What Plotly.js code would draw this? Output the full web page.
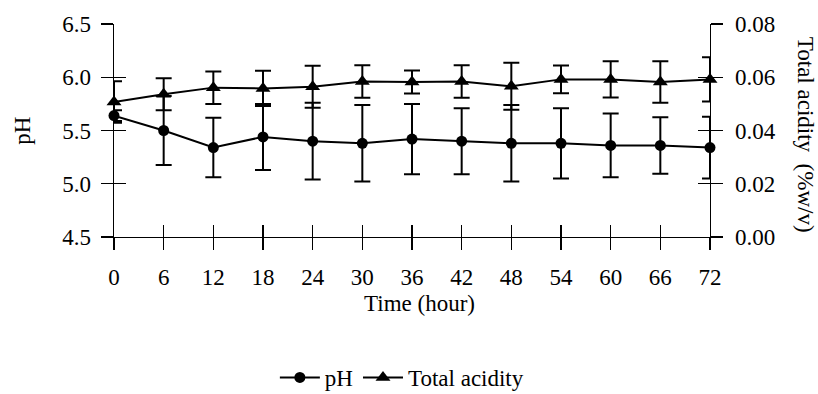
<!DOCTYPE html>
<html>
<head>
<meta charset="utf-8">
<script src="https://cdn.plot.ly/plotly-3.0.1.min.js"></script>
<style>
  html, body { margin: 0; padding: 0; background: #ffffff; }
  #chart { width: 818px; height: 394px; }
</style>
</head>
<body>
<div id="chart"></div>
<script>
// ---- data ----
const hours = [0, 6, 12, 18, 24, 30, 36, 42, 48, 54, 60, 66, 72];
const hourLabels = ['0', '6', '12', '18', '24', '30', '36', '42', '48', '54', '60', '66', '72'];
const pH = [5.64, 5.50, 5.34, 5.44, 5.40, 5.38, 5.42, 5.40, 5.38, 5.38, 5.36, 5.36, 5.34];
const pHErr = [0.05, 0.325, 0.28, 0.31, 0.36, 0.36, 0.33, 0.31, 0.36, 0.33, 0.30, 0.265, 0.29];
const acidity = [0.0507, 0.0536, 0.0561, 0.0558, 0.0564, 0.0584, 0.0582, 0.0584, 0.0566, 0.0592, 0.0592, 0.0582, 0.0592];
const acidityErr = [0.0078, 0.0060, 0.0061, 0.0066, 0.0079, 0.0061, 0.0043, 0.0061, 0.0088, 0.0052, 0.0068, 0.0078, 0.0083];
const pHTicks = [4.5, 5.0, 5.5, 6.0, 6.5];
const acidTicks = [0.00, 0.02, 0.04, 0.06, 0.08];

const FONT = 'Liberation Serif, Times New Roman, serif';
const FS = 23;

const errStyle = { type: 'data', visible: true, color: '#000', thickness: 2, width: 8 };

const traces = [
  {
    name: 'pH', x: hours, y: pH, xaxis: 'x', yaxis: 'y',
    mode: 'lines+markers', cliponaxis: false,
    line: { color: '#000', width: 2 },
    marker: { symbol: 'circle', size: 11, color: '#000' },
    error_y: Object.assign({ array: pHErr }, errStyle)
  },
  {
    name: 'Total acidity', x: hours, y: acidity, xaxis: 'x', yaxis: 'y2',
    mode: 'lines+markers', cliponaxis: false,
    line: { color: '#000', width: 2 },
    marker: { symbol: 'triangle-up', size: 13, color: '#000' },
    error_y: Object.assign({ array: acidityErr }, errStyle)
  },
  // empty helper traces so the inner-tick axes are drawn
  { x: [], y: [], xaxis: 'x2', yaxis: 'y3', showlegend: false, hoverinfo: 'skip' },
  { x: [], y: [], xaxis: 'x2', yaxis: 'y4', showlegend: false, hoverinfo: 'skip' }
];

const baseAx = {
  showgrid: false, zeroline: false, color: '#000', automargin: false,
  tickcolor: '#000', tickwidth: 1.3, ticklen: 12,
  tickfont: { family: FONT, size: FS, color: '#000' },
  fixedrange: true
};

const layout = {
  width: 818, height: 394,
  margin: { l: 114, r: 108, t: 24, b: 157, pad: 0, autoexpand: false },
  paper_bgcolor: '#fff', plot_bgcolor: '#fff',
  font: { family: FONT, size: FS, color: '#000' },
  showlegend: true,
  legend: {
    orientation: 'h', xref: 'paper', x: 0.483, xanchor: 'center',
    yref: 'container', y: 0.042, yanchor: 'middle',
    font: { family: FONT, size: FS, color: '#000' }, itemwidth: 40, tracegroupgap: 0
  },
  xaxis: Object.assign({}, baseAx, {
    range: [0, 72], tickvals: hours, ticktext: hourLabels, ticks: 'outside',
    showline: true, linecolor: '#000', linewidth: 1.3, anchor: 'y',
    ticklabelstandoff: 7
  }),
  xaxis2: Object.assign({}, baseAx, {
    range: [0, 72], tickvals: hours, ticks: 'inside', showticklabels: false,
    showline: false, overlaying: 'x', side: 'bottom', anchor: 'y'
  }),
  yaxis: Object.assign({}, baseAx, {
    range: [4.5, 6.5], tickvals: pHTicks, tickformat: '.1f', ticks: 'outside',
    showline: true, linecolor: '#000', linewidth: 1.3, side: 'left', anchor: 'x',
    ticklabelstandoff: 5
  }),
  yaxis2: Object.assign({}, baseAx, {
    range: [0, 0.08], tickvals: acidTicks, tickformat: '.2f', ticks: 'outside',
    showline: true, linecolor: '#000', linewidth: 1.3, side: 'right', overlaying: 'y', anchor: 'x',
    ticklabelstandoff: 7
  }),
  yaxis3: Object.assign({}, baseAx, {
    range: [4.5, 6.5], tickvals: pHTicks, ticks: 'inside', showticklabels: false,
    showline: false, side: 'left', overlaying: 'y', anchor: 'x2'
  }),
  yaxis4: Object.assign({}, baseAx, {
    range: [0, 0.08], tickvals: acidTicks, ticks: 'inside', showticklabels: false,
    showline: false, side: 'right', overlaying: 'y', anchor: 'x2'
  }),
  annotations: [
    { text: 'Time (hour)', xref: 'paper', yref: 'paper', x: 0.513, y: -0.314,
      xanchor: 'center', yanchor: 'middle', showarrow: false,
      font: { family: FONT, size: FS, color: '#000' } },
    { text: 'pH', xref: 'paper', yref: 'paper', x: -0.154, y: 0.5,
      xanchor: 'center', yanchor: 'middle', showarrow: false, textangle: -90,
      font: { family: FONT, size: FS, color: '#000' } },
    { text: 'Total acidity  (%w/v)', xref: 'paper', yref: 'paper', x: 1.16, y: 0.478,
      xanchor: 'center', yanchor: 'middle', showarrow: false, textangle: 90,
      font: { family: FONT, size: FS, color: '#000' } }
  ]
};

Plotly.newPlot('chart', traces, layout, { displayModeBar: false, staticPlot: true });
</script>
</body>
</html>
